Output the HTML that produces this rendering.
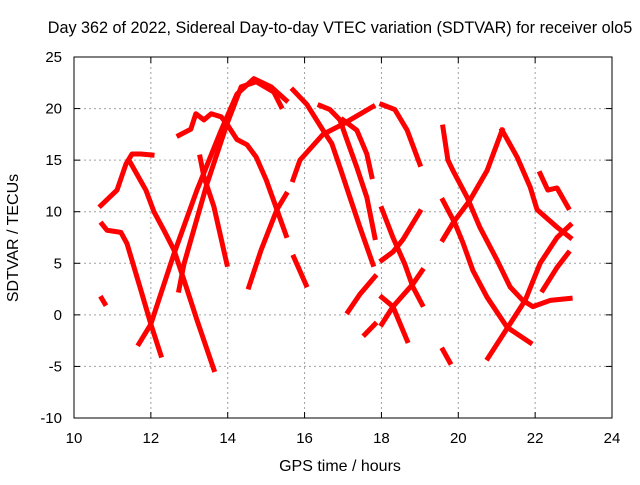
<!DOCTYPE html>
<html><head><meta charset="utf-8"><style>
body{margin:0;background:#fff;}
svg text{font-family:"Liberation Sans",sans-serif;font-size:15px;fill:#000;}
</style></head><body>
<svg id="chart" width="640" height="480">
<rect width="640" height="480" fill="#fff"/>
<g id="grid"></g>
<g id="series"></g>
<rect x="74" y="57" width="538" height="361" fill="none" stroke="#000" stroke-width="1"/>
<g id="ticks"></g>
<text x="340" y="33" text-anchor="middle" style="font-size:16.2px">Day 362 of 2022, Sidereal Day-to-day VTEC variation (SDTVAR) for receiver olo5</text>
<text x="340" y="471" text-anchor="middle" style="font-size:16px">GPS time / hours</text>
<text x="18" y="238" text-anchor="middle" style="font-size:16px" transform="rotate(-90 18 238)">SDTVAR / TECUs</text>
</svg>
<script>
const xTicks=[10,12,14,16,18,20,22,24];
const yTicks=[-10,-5,0,5,10,15,20,25];
const s1=[[10.70,10.6],[11.12,12.1],[11.35,14.6],[11.51,15.6],[11.74,15.6],[12.03,15.5]];
const s2=[[10.73,8.8],[10.86,8.2],[11.22,8.0],[11.38,6.9],[11.74,2.4],[12.0,-0.9],[12.26,-3.9]];
const s3=[[11.43,15.0],[11.87,12.1],[12.08,10.0],[12.34,8.2],[12.60,6.3],[12.86,3.4],[13.20,-0.5],[13.64,-5.3]];
const s4=[[11.69,-2.8],[12.0,-0.9],[12.60,5.9],[13.20,12.1],[13.83,17.9],[14.24,21.4],[14.68,22.9],[15.13,22.1],[15.52,20.8]];
const s5=[[12.73,2.4],[12.86,4.9],[13.46,12.7],[13.98,18.5],[14.35,22.1],[14.74,22.6],[15.20,21.6],[15.39,20.2]];
const s6=[[12.73,17.4],[13.04,18.0],[13.17,19.5],[13.38,18.9],[13.57,19.5],[13.83,19.2],[13.98,18.5],[14.24,17.0],[14.50,16.5],[14.74,15.3],[15.0,13.1],[15.28,10.2],[15.52,7.7]];
const s7=[[13.28,15.3],[13.38,13.4],[13.64,10.5],[13.98,4.9]];
const s8=[[14.55,2.7],[14.87,6.3],[15.28,10.2],[15.52,11.7]];
const s9=[[15.72,5.6],[16.04,2.9]];
const s10=[[15.70,21.8],[16.06,20.4],[16.48,17.9],[16.71,16.6],[16.92,14.3],[17.18,11.4],[17.44,8.5],[17.78,4.9]];
const s11=[[15.70,13.1],[15.88,15.0],[16.48,17.5],[17.0,18.5],[17.78,20.2]];
const s12=[[16.40,20.3],[16.66,19.9],[16.92,18.9],[17.08,17.2],[17.36,14.3],[17.62,11.4],[17.83,7.5]];
const s13=[[17.0,18.9],[17.36,17.9],[17.62,15.6],[17.75,13.4]];
const s14=[[17.13,0.3],[17.44,2.0],[17.83,3.7]];
const s15=[[17.57,-1.9],[17.83,-0.9]];
const s16=[[18.01,20.4],[18.35,19.9],[18.67,17.9],[19.0,14.6]];
const s17=[[18.01,10.3],[18.30,7.5],[18.61,4.9],[18.82,2.7],[19.06,1.0]];
const s18=[[18.01,5.3],[18.30,6.1],[18.56,7.3],[19.0,10.0]];
const s19=[[18.01,1.7],[18.30,0.8],[18.67,-2.5]];
const s20=[[18.01,-0.9],[18.30,0.8],[18.82,3.0],[19.06,4.3]];
const s21=[[19.60,18.2],[19.73,15.0],[19.86,14.0],[20.23,11.4],[20.56,8.5],[21.01,5.3],[21.35,2.7],[21.68,1.4],[21.94,0.8],[22.39,1.4],[22.91,1.6]];
const s22=[[19.60,11.1],[19.91,8.9],[20.12,7.0],[20.38,4.3],[20.75,1.7],[21.27,-1.2],[21.87,-2.7]];
const s23=[[19.60,7.3],[19.86,8.9],[20.30,11.1],[20.75,14.0],[21.14,17.9]];
const s24=[[21.14,17.9],[21.53,15.3],[21.87,12.4],[22.05,10.2],[22.57,8.5],[22.91,7.5]];
const s25=[[20.77,-4.2],[21.29,-1.2],[21.74,1.4],[22.13,5.0],[22.57,7.5],[22.91,8.7]];
const s26=[[22.20,2.4],[22.57,4.6],[22.86,6.0]];
const s27=[[22.13,13.7],[22.33,12.1],[22.57,12.3],[22.86,10.4]];
const s28=[[19.60,-3.4],[19.78,-4.6]];
const s29=[[10.72,1.6],[10.80,1.1]];
const allSeries=[s1,s2,s3,s4,s5,s6,s7,s8,s9,s10,s11,s12,s13,s14,s15,s16,s17,s18,s19,s20,s21,s22,s23,s24,s25,s26,s27,s28,s29];

const X0=74,X1=612,Y0=418,Y1=57;
function xs(t){return X0+(t-10)/(24-10)*(X1-X0);}
function ys(v){return Y0-(v+10)/(25+10)*(Y0-Y1);}
const NS="http://www.w3.org/2000/svg";
const grid=document.getElementById('grid'),ticks=document.getElementById('ticks'),ser=document.getElementById('series');
function mk(tag,attrs,parent){const e=document.createElementNS(NS,tag);for(const k in attrs)e.setAttribute(k,attrs[k]);parent.appendChild(e);return e;}
xTicks.forEach(t=>{
  const x=xs(t);
  if(t>10&&t<24){const g=mk('line',{x1:x,x2:x,y1:Y1,y2:Y0,stroke:'#a0a0a0','stroke-dasharray':'2,3'},grid);
  
  }
  mk('line',{x1:x,x2:x,y1:Y0,y2:Y0-6,stroke:'#000'},ticks);
  mk('line',{x1:x,x2:x,y1:Y1,y2:Y1+6,stroke:'#000'},ticks);
  const l=mk('text',{x:x,y:443,'text-anchor':'middle'},ticks);l.textContent=t;
  
  
});
yTicks.forEach(v=>{
  const y=ys(v);
  if(v>-10&&v<25){const g=mk('line',{x1:X0,x2:X1,y1:y,y2:y,stroke:'#a0a0a0','stroke-dasharray':'2,3'},grid);
  
  }
  mk('line',{x1:X0,x2:X0+6,y1:y,y2:y,stroke:'#000'},ticks);
  mk('line',{x1:X1,x2:X1-6,y1:y,y2:y,stroke:'#000'},ticks);
  const l=mk('text',{x:62,y:y+5,'text-anchor':'end'},ticks);l.textContent=v;
  
  
});
allSeries.forEach((s,i)=>{
  const p=mk('polyline',{points:s.map(d=>xs(d[0])+','+ys(d[1])).join(' '),fill:'none',stroke:'#ff0000','stroke-width':5,'stroke-linejoin':'round','stroke-linecap':'square'},ser);
  
  
});
</script>
</body></html>
